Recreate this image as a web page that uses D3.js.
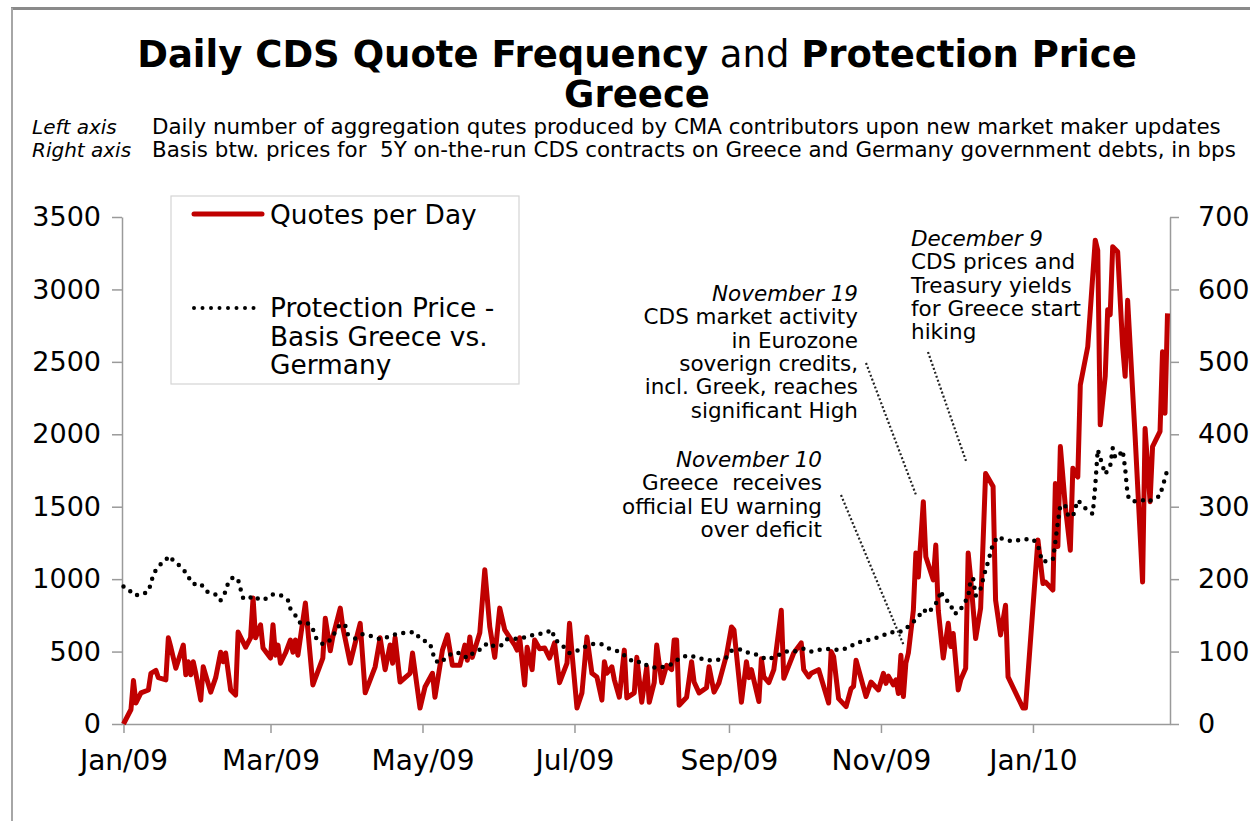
<!DOCTYPE html>
<html>
<head>
<meta charset="utf-8">
<script src="https://cdn.jsdelivr.net/npm/d3@7"></script>
<style>
  body { margin: 0; background: #fff; }
  svg { display: block; font-family: 'DejaVu Sans', Verdana, sans-serif; }
</style>
</head>
<body>
<svg width="1250" height="821"></svg>
<script>
// daily quote counts (left axis)
const quoteDates = [
  '2009-01-01','2009-01-04','2009-01-05','2009-01-06','2009-01-08','2009-01-11','2009-01-12','2009-01-14','2009-01-15','2009-01-18',
  '2009-01-19','2009-01-20','2009-01-22','2009-01-25','2009-01-26','2009-01-27','2009-01-28','2009-01-29','2009-01-30','2009-02-01',
  '2009-02-02','2009-02-05','2009-02-07','2009-02-09','2009-02-10','2009-02-11','2009-02-13','2009-02-15','2009-02-16','2009-02-19',
  '2009-02-21','2009-02-22','2009-02-23','2009-02-25','2009-02-26','2009-03-01','2009-03-02','2009-03-03','2009-03-04','2009-03-05',
  '2009-03-07','2009-03-09','2009-03-10','2009-03-11','2009-03-12','2009-03-15','2009-03-18','2009-03-22','2009-03-23','2009-03-25',
  '2009-03-26','2009-03-29','2009-03-30','2009-04-02','2009-04-04','2009-04-06','2009-04-08','2009-04-12','2009-04-14','2009-04-16',
  '2009-04-18','2009-04-19','2009-04-20','2009-04-22','2009-04-26','2009-04-27','2009-04-30','2009-05-02','2009-05-05','2009-05-06',
  '2009-05-09','2009-05-11','2009-05-13','2009-05-16','2009-05-18','2009-05-19','2009-05-20','2009-05-21','2009-05-24','2009-05-26',
  '2009-05-28','2009-05-30','2009-06-01','2009-06-03','2009-06-07','2009-06-08','2009-06-09','2009-06-11','2009-06-12','2009-06-14',
  '2009-06-15','2009-06-17','2009-06-19','2009-06-21','2009-06-23','2009-06-25','2009-06-28','2009-06-29','2009-06-30','2009-07-02',
  '2009-07-04','2009-07-06','2009-07-08','2009-07-10','2009-07-12','2009-07-13','2009-07-14','2009-07-16','2009-07-17','2009-07-19',
  '2009-07-21','2009-07-22','2009-07-25','2009-07-26','2009-07-28','2009-07-30','2009-07-31','2009-08-02','2009-08-03','2009-08-05',
  '2009-08-07','2009-08-09','2009-08-10','2009-08-11','2009-08-12','2009-08-15','2009-08-17','2009-08-18','2009-08-20','2009-08-23',
  '2009-08-24','2009-08-26','2009-08-28','2009-08-31','2009-09-02','2009-09-03','2009-09-06','2009-09-08','2009-09-09','2009-09-10',
  '2009-09-13','2009-09-14','2009-09-15','2009-09-17','2009-09-19','2009-09-22','2009-09-23','2009-09-27','2009-09-30','2009-10-01',
  '2009-10-03','2009-10-04','2009-10-07','2009-10-11','2009-10-12','2009-10-13','2009-10-15','2009-10-18','2009-10-20','2009-10-21',
  '2009-10-22','2009-10-26','2009-10-28','2009-10-31','2009-11-02','2009-11-03','2009-11-04','2009-11-06','2009-11-07','2009-11-08',
  '2009-11-09','2009-11-10','2009-11-11','2009-11-12','2009-11-14','2009-11-15','2009-11-16','2009-11-18','2009-11-19','2009-11-22',
  '2009-11-23','2009-11-24','2009-11-26','2009-11-28','2009-11-29','2009-11-30','2009-12-02','2009-12-03','2009-12-05','2009-12-06',
  '2009-12-07','2009-12-09','2009-12-11','2009-12-13','2009-12-16','2009-12-17','2009-12-19','2009-12-21','2009-12-22','2009-12-28',
  '2009-12-29','2010-01-03','2010-01-05','2010-01-06','2010-01-09','2010-01-10','2010-01-11','2010-01-12','2010-01-14','2010-01-16',
  '2010-01-17','2010-01-19','2010-01-20','2010-01-23','2010-01-26','2010-01-27','2010-01-28','2010-01-30','2010-01-31','2010-02-01',
  '2010-02-02','2010-02-04','2010-02-06','2010-02-07','2010-02-08','2010-02-11','2010-02-14','2010-02-15','2010-02-17','2010-02-18',
  '2010-02-21','2010-02-22','2010-02-23','2010-02-24'
]
const quoteCounts = [
  0,100,300,145,215,235,350,370,320,305,
  595,530,385,545,340,430,340,430,350,165,
  395,220,320,495,430,490,235,200,635,530,
  595,870,595,685,525,455,685,475,545,420,
  490,580,495,580,475,835,270,455,730,505,
  600,800,670,420,560,695,215,395,595,375,
  545,420,595,290,350,490,110,255,350,185,
  510,615,405,405,545,440,600,460,630,1065,
  670,460,800,650,545,510,595,270,530,375,
  580,520,525,455,560,285,420,695,490,110,
  215,600,350,325,165,430,350,395,305,185,
  510,180,215,460,150,395,150,285,545,285,
  405,375,580,580,130,185,430,290,215,250,
  395,220,285,475,670,650,150,430,320,375,
  155,450,325,285,375,785,315,490,560,375,
  325,350,375,145,500,465,175,120,245,260,
  440,190,290,235,350,280,330,270,305,210,
  475,190,420,490,785,1180,1015,1535,1155,995,
  1235,785,455,695,535,625,235,305,385,1180,
  1005,590,800,1730,1640,855,615,820,325,110,
  110,1270,970,980,925,1660,1225,1915,1500,1200,
  1765,1705,2340,2605,3340,3270,2065,2400,2860,2825,
  3295,3260,2605,2400,2925,1985,980,2040,1535,1915,
  2020,2570,2145,2835
]

// Greece vs Germany CDS basis, bps (right axis)
const basisDates = [
  '2009-01-01','2009-01-03','2009-01-05','2009-01-08','2009-01-11','2009-01-12','2009-01-13','2009-01-15','2009-01-18','2009-01-19',
  '2009-01-22','2009-01-25','2009-01-27','2009-01-29','2009-02-01','2009-02-03','2009-02-05','2009-02-08','2009-02-09','2009-02-11',
  '2009-02-12','2009-02-14','2009-02-16','2009-02-17','2009-02-18','2009-02-20','2009-02-22','2009-02-25','2009-02-28','2009-03-02',
  '2009-03-05','2009-03-08','2009-03-09','2009-03-11','2009-03-13','2009-03-16','2009-03-18','2009-03-19','2009-03-22','2009-03-25',
  '2009-03-27','2009-03-29','2009-03-31','2009-04-01','2009-04-04','2009-04-07','2009-04-11','2009-04-14','2009-04-18','2009-04-21',
  '2009-04-24','2009-04-28','2009-04-30','2009-05-04','2009-05-05','2009-05-06','2009-05-08','2009-05-11','2009-05-13','2009-05-16',
  '2009-05-19','2009-05-22','2009-05-25','2009-05-27','2009-05-30','2009-06-02','2009-06-04','2009-06-08','2009-06-12','2009-06-15',
  '2009-06-19','2009-06-22','2009-06-23','2009-06-26','2009-06-29','2009-07-02','2009-07-06','2009-07-09','2009-07-12','2009-07-15',
  '2009-07-19','2009-07-22','2009-07-25','2009-07-28','2009-07-30','2009-08-03','2009-08-07','2009-08-10','2009-08-12','2009-08-16',
  '2009-08-19','2009-08-23','2009-08-27','2009-08-31','2009-09-02','2009-09-06','2009-09-09','2009-09-13','2009-09-16','2009-09-20',
  '2009-09-23','2009-09-27','2009-10-01','2009-10-04','2009-10-08','2009-10-12','2009-10-15','2009-10-19','2009-10-22','2009-10-25',
  '2009-10-29','2009-11-01','2009-11-05','2009-11-08','2009-11-11','2009-11-14','2009-11-16','2009-11-18','2009-11-20','2009-11-22',
  '2009-11-24','2009-11-25','2009-11-26','2009-11-29','2009-11-30','2009-12-02','2009-12-04','2009-12-06','2009-12-07','2009-12-08',
  '2009-12-09','2009-12-11','2009-12-12','2009-12-13','2009-12-14','2009-12-15','2009-12-16','2009-12-18','2009-12-20','2009-12-24',
  '2009-12-28','2010-01-01','2010-01-03','2010-01-04','2010-01-05','2010-01-09','2010-01-10','2010-01-11','2010-01-12','2010-01-14',
  '2010-01-15','2010-01-17','2010-01-18','2010-01-19','2010-01-22','2010-01-25','2010-01-26','2010-01-27','2010-01-29','2010-01-30',
  '2010-02-01','2010-02-02','2010-02-03','2010-02-04','2010-02-06','2010-02-07','2010-02-08','2010-02-10','2010-02-14','2010-02-16',
  '2010-02-18','2010-02-21','2010-02-22','2010-02-23','2010-02-24'
]
const basisBps = [
  190,186,178,178,183,194,207,218,226,232,
  223,214,203,193,194,184,180,178,171,183,
  195,203,199,186,174,172,177,171,174,179,
  178,171,159,150,139,139,131,120,110,116,
  127,138,136,124,118,124,121,117,121,125,
  126,127,118,111,100,88,84,93,98,98,
  91,100,104,112,107,109,117,118,120,124,
  125,130,117,109,98,101,108,111,110,104,
  100,92,85,86,81,77,80,84,91,95,
  92,88,88,92,101,103,98,95,89,93,
  100,100,104,100,103,104,102,105,112,114,
  118,121,127,126,132,141,148,158,153,162,
  171,184,175,166,153,153,164,176,199,201,
  177,187,200,213,224,237,249,259,255,252,
  255,255,247,233,224,227,252,279,302,301,
  289,286,298,309,298,290,329,379,356,345,
  356,381,368,368,378,353,315,307,309,306,
  310,315,328,339,352
]

const leftTicks = [0, 500, 1000, 1500, 2000, 2500, 3000, 3500]
const rightTicks = [0, 100, 200, 300, 400, 500, 600, 700]

const svg = d3.select('svg')
const parseDate = d3.timeParse('%Y-%m-%d')
const quotes = quoteDates.map((d, i) => ({ date: parseDate(d), value: quoteCounts[i] }))
const basis = basisDates.map((d, i) => ({ date: parseDate(d), value: basisBps[i] }))

const x = d3.scaleTime()
  .domain([new Date(2008, 11, 31), new Date(2010, 1, 25)])
  .range([121, 1170])
const yLeft = d3.scaleLinear().domain([0, 3500]).range([724, 217])
const yRight = d3.scaleLinear().domain([0, 700]).range([724, 217])

// frame
svg.append('rect').attr('width', 1250).attr('height', 821).attr('fill', '#fff')
svg.append('line').attr('x1', 11).attr('x2', 1250).attr('y1', 8.5).attr('y2', 8.5)
  .attr('stroke', '#8a8a8a').attr('stroke-width', 3)
svg.append('line').attr('x1', 12).attr('x2', 12).attr('y1', 8).attr('y2', 821)
  .attr('stroke', '#a6a6a6').attr('stroke-width', 2)

// titles
const title = svg.append('text')
  .attr('x', 637).attr('y', 67)
  .attr('text-anchor', 'middle')
  .style('font-size', '37px')
title.append('tspan').attr('font-weight', 'bold').text('Daily CDS Quote Frequency')
title.append('tspan').text(' and ')
title.append('tspan').attr('font-weight', 'bold').text('Protection Price')
svg.append('text')
  .attr('x', 637).attr('y', 107)
  .attr('text-anchor', 'middle')
  .attr('font-weight', 'bold')
  .style('font-size', '37px')
  .text('Greece')

const notes = [
  ['Left axis', 'Daily number of aggregation qutes produced by CMA contributors upon new market maker updates'],
  ['Right axis', 'Basis btw. prices for  5Y on-the-run CDS contracts on Greece and Germany government debts, in bps']
]
notes.forEach((n, i) => {
  svg.append('text').attr('x', 32).attr('y', 134 + i * 23)
    .style('font-size', '20px').style('font-style', 'italic').text(n[0])
  svg.append('text').attr('x', 152).attr('y', 134 + i * 23)
    .style('font-size', '21.4px').style('white-space', 'pre').text(n[1])
})

// axes
function styleAxis(size) {
  return g => {
    g.selectAll('path, line').attr('stroke', '#9a9a9a').attr('stroke-width', 1.5)
    g.selectAll('text').attr('fill', '#000').style('font-size', size)
      .style('font-family', "'DejaVu Sans', Verdana, sans-serif")
  }
}

svg.append('g')
  .attr('transform', 'translate(122,0)')
  .call(d3.axisLeft(yLeft).tickValues(leftTicks).tickFormat(d3.format('d'))
    .tickSize(10).tickSizeOuter(0).tickPadding(11))
  .call(styleAxis('27px'))

svg.append('g')
  .attr('transform', 'translate(1170,0)')
  .call(d3.axisRight(yRight).tickValues(rightTicks).tickSize(9).tickSizeOuter(0).tickPadding(19))
  .call(styleAxis('27px'))

svg.append('g')
  .attr('transform', 'translate(0,724)')
  .call(d3.axisBottom(x)
    .ticks(d3.timeMonth.every(2))
    .tickFormat(d3.timeFormat('%b/%y'))
    .tickSize(9).tickSizeOuter(0).tickPadding(17))
  .call(styleAxis('28px'))

// series
const quoteLine = d3.line().x(d => x(d.date)).y(d => yLeft(d.value))
const basisLine = d3.line().x(d => x(d.date)).y(d => yRight(d.value))

svg.append('path')
  .datum(quotes)
  .attr('d', quoteLine)
  .attr('fill', 'none')
  .attr('stroke', '#c00000')
  .attr('stroke-width', 5)
  .attr('stroke-linejoin', 'round')

svg.append('path')
  .datum(basis)
  .attr('d', basisLine)
  .attr('fill', 'none')
  .attr('stroke', '#000')
  .attr('stroke-width', 4.5)
  .attr('stroke-linecap', 'round')
  .attr('stroke-dasharray', '0 8.5')

// annotations
const annotations = [
  { x: 858, y: 301, anchor: 'end', head: 'November 19',
    lines: ['CDS market activity', 'in Eurozone', 'soverign credits,', 'incl. Greek, reaches', 'significant High'],
    leader: [[866, 363], [916, 495]] },
  { x: 822, y: 467, anchor: 'end', head: 'November 10',
    lines: ['Greece  receives', 'official EU warning', 'over deficit'],
    leader: [[841, 495], [904, 646]] },
  { x: 911, y: 246, anchor: 'start', head: 'December 9',
    lines: ['CDS prices and', 'Treasury yields', 'for Greece start', 'hiking'],
    leader: [[928, 352], [966, 461]] }
]

annotations.forEach(a => {
  const t = svg.append('text')
    .attr('text-anchor', a.anchor)
    .style('font-size', '21.5px')
    .style('white-space', 'pre')
  t.append('tspan').attr('x', a.x).attr('y', a.y)
    .style('font-style', 'italic').text(a.head)
  a.lines.forEach((l, i) => {
    t.append('tspan').attr('x', a.x).attr('y', a.y + 23.3 * (i + 1)).text(l)
  })
  svg.append('line')
    .attr('x1', a.leader[0][0]).attr('y1', a.leader[0][1])
    .attr('x2', a.leader[1][0]).attr('y2', a.leader[1][1])
    .attr('stroke', '#222').attr('stroke-width', 2.2)
    .attr('stroke-dasharray', '2 2.2')
})

// legend
const legend = svg.append('g')
legend.append('rect')
  .attr('x', 171).attr('y', 196).attr('width', 348).attr('height', 188)
  .attr('fill', '#fff').attr('stroke', '#d4d4d4').attr('stroke-width', 1.2)
legend.append('line')
  .attr('x1', 194).attr('x2', 262).attr('y1', 214).attr('y2', 214)
  .attr('stroke', '#c00000').attr('stroke-width', 5).attr('stroke-linecap', 'round')
legend.append('text').attr('x', 270).attr('y', 224)
  .style('font-size', '26.4px').text('Quotes per Day')
legend.append('line')
  .attr('x1', 194).attr('x2', 254).attr('y1', 308).attr('y2', 308)
  .attr('stroke', '#000').attr('stroke-width', 4)
  .attr('stroke-linecap', 'round').attr('stroke-dasharray', '0 8.5')
const legText = legend.append('text').style('font-size', '26.4px')
;['Protection Price -', 'Basis Greece vs.', 'Germany'].forEach((s, i) => {
  legText.append('tspan').attr('x', 270).attr('y', 317 + i * 28.5).text(s)
})
</script>
</body>
</html>
